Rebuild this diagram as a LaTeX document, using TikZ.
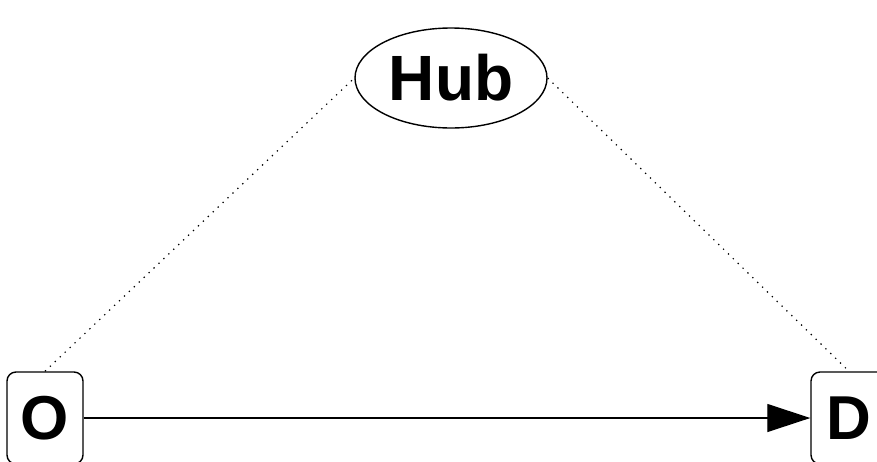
\documentclass[tikz,border=0pt]{standalone}
\usepackage{fontspec}
\setmainfont{Liberation Sans}
\usetikzlibrary{shapes.geometric,arrows.meta}
\begin{document}
\begin{tikzpicture}[x=1pt,y=-1pt,
  hubnode/.style={ellipse,draw,line width=1.4pt,minimum width=192pt,minimum height=100pt,inner sep=0pt,
    font=\fontsize{64}{64}\selectfont\bfseries},
  endbox/.style={rectangle,draw,line width=1.4pt,rounded corners=9pt,minimum width=76pt,minimum height=92pt,inner sep=0pt,
    font=\fontsize{62}{62}\selectfont\bfseries},
  link/.style={line width=1.2pt,dash pattern=on 1.3pt off 5.5pt},
  flow/.style={line width=1.1pt,-{Triangle[length=43pt,width=28pt]}}]
  \useasboundingbox (0,0) rectangle (877,461);
  \clip (0,0) rectangle (877,461);
  \node[hubnode] (hub) at (451,78) {Hub};
  \node[endbox] (o) at (45,418) {O};
  \node[endbox] (d) at (849,418) {D};
  \draw[link] (o.north) -- (hub.west);
  \draw[link] (hub.east) -- (d.north);
  \draw[flow] (o.east) -- (d.west);
\end{tikzpicture}
\end{document}
